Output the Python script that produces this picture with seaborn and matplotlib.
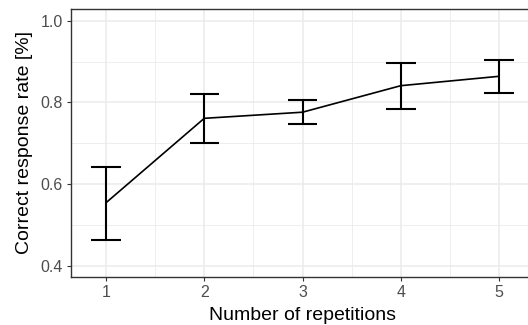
import matplotlib
matplotlib.use("Agg")
import matplotlib.pyplot as plt
import seaborn as sns
import pandas as pd
from matplotlib.ticker import MultipleLocator

# values
repetitions = [1, 2, 3, 4, 5]
mean_rate = [0.554, 0.761, 0.776, 0.841, 0.864]
lower_rate = [0.463, 0.701, 0.746, 0.785, 0.824]
upper_rate = [0.642, 0.820, 0.806, 0.896, 0.905]

df = pd.DataFrame({"Repetitions": repetitions, "Rate": mean_rate,
                   "Lower": lower_rate, "Upper": upper_rate})

sns.set_style("white")
plt.rcParams['font.family'] = ['Liberation Sans', 'DejaVu Sans']

fig = plt.figure(figsize=(5.28, 3.25), dpi=100)
ax = fig.add_axes([0.1345, 0.1477, 0.8769, 0.8246])

# ggplot-like grid
ax.set_axisbelow(True)
ax.xaxis.set_major_locator(MultipleLocator(1))
ax.xaxis.set_minor_locator(MultipleLocator(0.5))
ax.yaxis.set_major_locator(MultipleLocator(0.2))
ax.yaxis.set_minor_locator(MultipleLocator(0.1))
ax.grid(which='major', color='#ebebeb', linewidth=1.1)
ax.grid(which='minor', color='#ebebeb', linewidth=0.6)

sns.lineplot(data=df, x="Repetitions", y="Rate", color='black', linewidth=1.2, ax=ax)

# error bars with caps
cap_half = 0.15
ax.vlines(df["Repetitions"], df["Lower"], df["Upper"], color='black', linewidth=1.5)
ax.hlines(df["Lower"], df["Repetitions"] - cap_half, df["Repetitions"] + cap_half,
          color='black', linewidth=1.5)
ax.hlines(df["Upper"], df["Repetitions"] - cap_half, df["Repetitions"] + cap_half,
          color='black', linewidth=1.5)

ax.set_xlim(0.644, 5.356)
ax.set_ylim(0.372, 1.029)
ax.set_yticks([0.4, 0.6, 0.8, 1.0])
ax.set_yticklabels(['0.4', '0.6', '0.8', '1.0'])
ax.set_xticks(repetitions)

for spine in ax.spines.values():
    spine.set_color('#333333')
    spine.set_linewidth(1.0)

ax.tick_params(which='major', length=3, width=0.8, color='#333333',
               labelsize=11.5, labelcolor='#4d4d4d', pad=3, bottom=True, left=True)
ax.tick_params(which='minor', length=0)

ax.set_xlabel('Number of repetitions', fontsize=14, color='black', labelpad=5)
ax.set_ylabel('Correct response rate [%]', fontsize=14, color='black', labelpad=5)

fig.savefig('out.png', dpi=100)
